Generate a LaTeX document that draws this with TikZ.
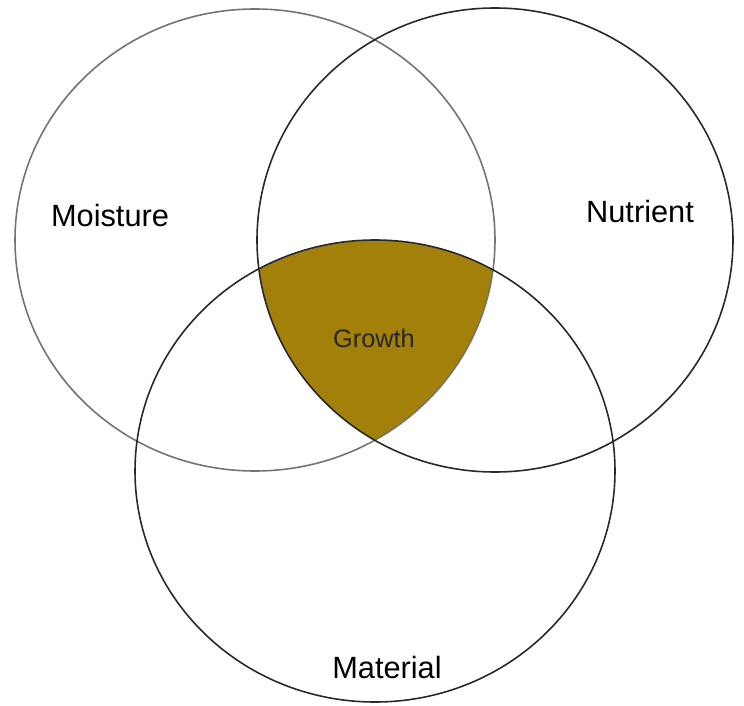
\documentclass[tikz,border=0pt]{standalone}
\usepackage{fontspec}
\setmainfont{Liberation Sans}
\usepackage{xcolor}
\usepackage{tikz}
\definecolor{growthFill}{RGB}{162, 128, 10}
\definecolor{ringLine}{RGB}{40, 40, 40}

\begin{document}
\begin{tikzpicture}[x=0.02cm, y=-0.02cm,
    ring/.style={draw=ringLine, line width=0.9pt},
    tag/.style={font=\fontsize{17.5}{20}\selectfont, text=black},
    core/.style={font=\fontsize{14.4}{17}\selectfont, text=black!85}]
    \useasboundingbox (0,0) rectangle (744,706);

    \coordinate (cM) at (255,240);
    \coordinate (cN) at (495,240);
    \coordinate (cT) at (375,471);

    % shaded overlap of all three
    \begin{scope}
        \clip (cM) ellipse [x radius=240, y radius=231];
        \clip (cN) ellipse [x radius=238, y radius=232];
        \fill[growthFill] (cT) ellipse [x radius=240, y radius=231];
    \end{scope}

    \draw[ring, draw=black!55] (cM) ellipse [x radius=240, y radius=231];
    \draw[ring] (cN) ellipse [x radius=238, y radius=232];
    \draw[ring] (cT) ellipse [x radius=240, y radius=231];

    \node[tag] (moist) at (110,216) {Moisture};
    \node[tag] (nutr) at (640,212) {Nutrient};
    \node[tag] (mat) at (387,668) {Material};
    \node[core] (grow) at (374,338) {Growth};

\end{tikzpicture}
\end{document}
